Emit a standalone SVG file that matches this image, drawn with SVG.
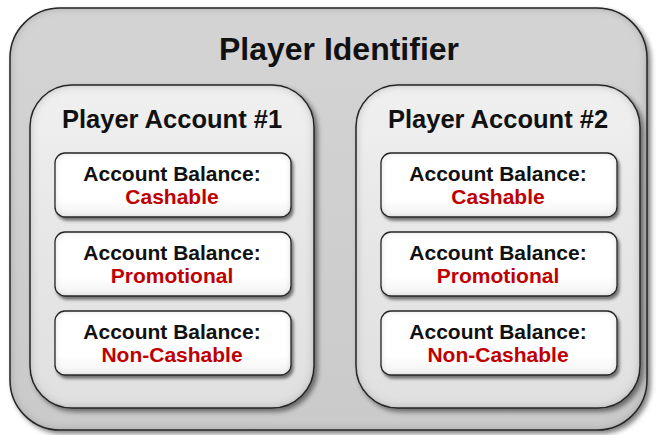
<svg xmlns="http://www.w3.org/2000/svg" width="657" height="435" viewBox="0 0 657 435">
<defs>
<filter id="bv" x="-5%" y="-5%" width="115%" height="115%">
<feGaussianBlur in="SourceAlpha" stdDeviation="5" result="b"/>
<feComposite in="SourceAlpha" in2="b" operator="arithmetic" k2="1" k3="-1" result="edge"/>
<feFlood flood-color="#000" flood-opacity="0.55"/>
<feComposite in2="edge" operator="in" result="edgeShade"/>
<feGaussianBlur in="SourceAlpha" stdDeviation="2.5" result="sb"/>
<feOffset in="sb" dx="3" dy="3" result="so"/>
<feFlood flood-color="#000" flood-opacity="0.5"/>
<feComposite in2="so" operator="in" result="shadow"/>
<feMerge><feMergeNode in="shadow"/><feMergeNode in="SourceGraphic"/><feMergeNode in="edgeShade"/></feMerge>
</filter>
<filter id="bvs" x="-5%" y="-10%" width="115%" height="130%">
<feGaussianBlur in="SourceAlpha" stdDeviation="3" result="b"/>
<feComposite in="SourceAlpha" in2="b" operator="arithmetic" k2="1" k3="-1" result="edge"/>
<feFlood flood-color="#000" flood-opacity="0.4"/>
<feComposite in2="edge" operator="in" result="edgeShade"/>
<feGaussianBlur in="SourceAlpha" stdDeviation="1.8" result="sb"/>
<feOffset in="sb" dx="2" dy="3" result="so"/>
<feFlood flood-color="#000" flood-opacity="0.5"/>
<feComposite in2="so" operator="in" result="shadow"/>
<feMerge><feMergeNode in="shadow"/><feMergeNode in="SourceGraphic"/><feMergeNode in="edgeShade"/></feMerge>
</filter>
<linearGradient id="gOuter" x1="0" y1="0" x2="0" y2="1">
<stop offset="0" stop-color="#d4d4d4"/>
<stop offset="1" stop-color="#cacaca"/>
</linearGradient>
<linearGradient id="gAcc" x1="0" y1="0" x2="0" y2="1">
<stop offset="0" stop-color="#f0f0f0"/>
<stop offset="0.5" stop-color="#e6e6e6"/>
<stop offset="1" stop-color="#e0e0e0"/>
</linearGradient>
<linearGradient id="gNode" x1="0" y1="0" x2="0" y2="1">
<stop offset="0" stop-color="#ffffff"/>
<stop offset="0.7" stop-color="#ffffff"/>
<stop offset="1" stop-color="#f2f2f2"/>
</linearGradient>
</defs>
<style>
.outer{fill:url(#gOuter);stroke:#2e2e2e;stroke-width:1.5;filter:url(#bv)}
.acc{fill:url(#gAcc);stroke:#2e2e2e;stroke-width:1.5;filter:url(#bv)}
.node{fill:url(#gNode);stroke:#2e2e2e;stroke-width:1.3;filter:url(#bvs)}
text{font-family:"Liberation Sans",Arial,sans-serif;font-weight:bold;text-anchor:middle}
.t1{font-size:32px;fill:#111}
.t2{font-size:25.5px;fill:#111}
.l1{font-size:21px;fill:#111}
.l2{font-size:21px;fill:#c00000}
</style>
<g id="player-identifier">
<rect class="outer" x="10" y="8" width="637" height="422" rx="50" ry="50"/>
<text class="t1" x="339" y="60">Player Identifier</text>
</g>
<g id="player-account-1">
<rect class="acc" x="30" y="85" width="284" height="323" rx="42" ry="42"/>
<text class="t2" x="172" y="128">Player Account #1</text>
</g>
<g id="player-account-2">
<rect class="acc" x="356" y="85" width="284" height="323" rx="42" ry="42"/>
<text class="t2" x="498" y="128">Player Account #2</text>
</g>
<g id="acc1-cashable">
<rect class="node" x="55" y="153" width="236" height="64" rx="10" ry="10"/>
<text class="l1" x="172" y="181">Account Balance:</text>
<text class="l2" x="172" y="204">Cashable</text>
</g>
<g id="acc1-promotional">
<rect class="node" x="55" y="232" width="236" height="64" rx="10" ry="10"/>
<text class="l1" x="172" y="260">Account Balance:</text>
<text class="l2" x="172" y="283">Promotional</text>
</g>
<g id="acc1-noncashable">
<rect class="node" x="55" y="311" width="236" height="64" rx="10" ry="10"/>
<text class="l1" x="172" y="339">Account Balance:</text>
<text class="l2" x="172" y="362">Non-Cashable</text>
</g>
<g id="acc2-cashable">
<rect class="node" x="381" y="153" width="236" height="64" rx="10" ry="10"/>
<text class="l1" x="498" y="181">Account Balance:</text>
<text class="l2" x="498" y="204">Cashable</text>
</g>
<g id="acc2-promotional">
<rect class="node" x="381" y="232" width="236" height="64" rx="10" ry="10"/>
<text class="l1" x="498" y="260">Account Balance:</text>
<text class="l2" x="498" y="283">Promotional</text>
</g>
<g id="acc2-noncashable">
<rect class="node" x="381" y="311" width="236" height="64" rx="10" ry="10"/>
<text class="l1" x="498" y="339">Account Balance:</text>
<text class="l2" x="498" y="362">Non-Cashable</text>
</g>
<g id="connectors"/>
</svg>
